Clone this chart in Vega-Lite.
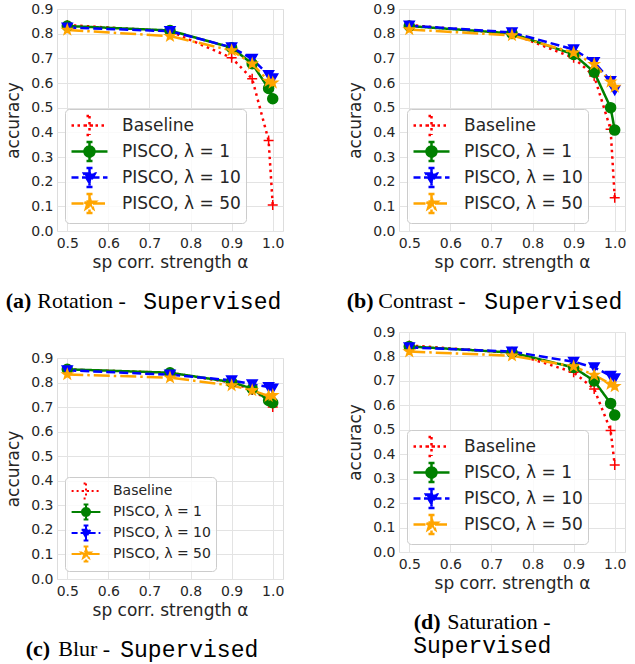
{
"$schema": "https://vega.github.io/schema/vega-lite/v6.json",
"padding": {"left": 4, "top": 1, "right": 0, "bottom": 0},
"background": "white",
"config": {
  "view": {"stroke": "#dddddd", "strokeWidth": 1},
  "axis": {"labelFont": "DejaVu Sans", "labelFontSize": 14, "labelColor": "#262626", "titleFont": "DejaVu Sans", "titleFontSize": 17, "titleFontWeight": "normal", "titleColor": "#262626", "ticks": false, "domain": false, "gridColor": "#e3e3e3", "gridWidth": 1},
  "title": {"color": "black"}
},
"datasets": {
  "rot": [
    {"alpha": 0.5, "acc": 0.835, "method": "Baseline"}, {"alpha": 0.75, "acc": 0.81, "method": "Baseline"}, {"alpha": 0.9, "acc": 0.702, "method": "Baseline"}, {"alpha": 0.95, "acc": 0.617, "method": "Baseline"}, {"alpha": 0.99, "acc": 0.367, "method": "Baseline"}, {"alpha": 1.0, "acc": 0.105, "method": "Baseline"},
    {"alpha": 0.5, "acc": 0.831, "method": "PISCO, λ = 1"}, {"alpha": 0.75, "acc": 0.813, "method": "PISCO, λ = 1"}, {"alpha": 0.9, "acc": 0.743, "method": "PISCO, λ = 1"}, {"alpha": 0.95, "acc": 0.678, "method": "PISCO, λ = 1"}, {"alpha": 0.99, "acc": 0.578, "method": "PISCO, λ = 1"}, {"alpha": 1.0, "acc": 0.536, "method": "PISCO, λ = 1"},
    {"alpha": 0.5, "acc": 0.825, "method": "PISCO, λ = 10"}, {"alpha": 0.75, "acc": 0.81, "method": "PISCO, λ = 10"}, {"alpha": 0.9, "acc": 0.745, "method": "PISCO, λ = 10"}, {"alpha": 0.95, "acc": 0.698, "method": "PISCO, λ = 10"}, {"alpha": 0.99, "acc": 0.632, "method": "PISCO, λ = 10"}, {"alpha": 1.0, "acc": 0.619, "method": "PISCO, λ = 10"},
    {"alpha": 0.5, "acc": 0.815, "method": "PISCO, λ = 50"}, {"alpha": 0.75, "acc": 0.79, "method": "PISCO, λ = 50"}, {"alpha": 0.9, "acc": 0.732, "method": "PISCO, λ = 50"}, {"alpha": 0.95, "acc": 0.678, "method": "PISCO, λ = 50"}, {"alpha": 0.99, "acc": 0.608, "method": "PISCO, λ = 50"}, {"alpha": 1.0, "acc": 0.601, "method": "PISCO, λ = 50"}
  ],
  "con": [
    {"alpha": 0.5, "acc": 0.835, "method": "Baseline"}, {"alpha": 0.75, "acc": 0.80, "method": "Baseline"}, {"alpha": 0.9, "acc": 0.702, "method": "Baseline"}, {"alpha": 0.95, "acc": 0.628, "method": "Baseline"}, {"alpha": 0.99, "acc": 0.412, "method": "Baseline"}, {"alpha": 1.0, "acc": 0.135, "method": "Baseline"},
    {"alpha": 0.5, "acc": 0.831, "method": "PISCO, λ = 1"}, {"alpha": 0.75, "acc": 0.801, "method": "PISCO, λ = 1"}, {"alpha": 0.9, "acc": 0.716, "method": "PISCO, λ = 1"}, {"alpha": 0.95, "acc": 0.644, "method": "PISCO, λ = 1"}, {"alpha": 0.99, "acc": 0.5, "method": "PISCO, λ = 1"}, {"alpha": 1.0, "acc": 0.409, "method": "PISCO, λ = 1"},
    {"alpha": 0.5, "acc": 0.833, "method": "PISCO, λ = 10"}, {"alpha": 0.75, "acc": 0.805, "method": "PISCO, λ = 10"}, {"alpha": 0.9, "acc": 0.736, "method": "PISCO, λ = 10"}, {"alpha": 0.95, "acc": 0.685, "method": "PISCO, λ = 10"}, {"alpha": 0.99, "acc": 0.608, "method": "PISCO, λ = 10"}, {"alpha": 1.0, "acc": 0.57, "method": "PISCO, λ = 10"},
    {"alpha": 0.5, "acc": 0.817, "method": "PISCO, λ = 50"}, {"alpha": 0.75, "acc": 0.793, "method": "PISCO, λ = 50"}, {"alpha": 0.9, "acc": 0.723, "method": "PISCO, λ = 50"}, {"alpha": 0.95, "acc": 0.676, "method": "PISCO, λ = 50"}, {"alpha": 0.99, "acc": 0.605, "method": "PISCO, λ = 50"}, {"alpha": 1.0, "acc": 0.584, "method": "PISCO, λ = 50"}
  ],
  "blur": [
    {"alpha": 0.5, "acc": 0.853, "method": "Baseline"}, {"alpha": 0.75, "acc": 0.84, "method": "Baseline"}, {"alpha": 0.9, "acc": 0.80, "method": "Baseline"}, {"alpha": 0.95, "acc": 0.77, "method": "Baseline"}, {"alpha": 0.99, "acc": 0.727, "method": "Baseline"}, {"alpha": 1.0, "acc": 0.70, "method": "Baseline"},
    {"alpha": 0.5, "acc": 0.854, "method": "PISCO, λ = 1"}, {"alpha": 0.75, "acc": 0.84, "method": "PISCO, λ = 1"}, {"alpha": 0.9, "acc": 0.802, "method": "PISCO, λ = 1"}, {"alpha": 0.95, "acc": 0.775, "method": "PISCO, λ = 1"}, {"alpha": 0.99, "acc": 0.727, "method": "PISCO, λ = 1"}, {"alpha": 1.0, "acc": 0.718, "method": "PISCO, λ = 1"},
    {"alpha": 0.5, "acc": 0.85, "method": "PISCO, λ = 10"}, {"alpha": 0.75, "acc": 0.832, "method": "PISCO, λ = 10"}, {"alpha": 0.9, "acc": 0.809, "method": "PISCO, λ = 10"}, {"alpha": 0.95, "acc": 0.793, "method": "PISCO, λ = 10"}, {"alpha": 0.99, "acc": 0.782, "method": "PISCO, λ = 10"}, {"alpha": 1.0, "acc": 0.775, "method": "PISCO, λ = 10"},
    {"alpha": 0.5, "acc": 0.833, "method": "PISCO, λ = 50"}, {"alpha": 0.75, "acc": 0.82, "method": "PISCO, λ = 50"}, {"alpha": 0.9, "acc": 0.788, "method": "PISCO, λ = 50"}, {"alpha": 0.95, "acc": 0.768, "method": "PISCO, λ = 50"}, {"alpha": 0.99, "acc": 0.745, "method": "PISCO, λ = 50"}, {"alpha": 1.0, "acc": 0.748, "method": "PISCO, λ = 50"}
  ],
  "sat": [
    {"alpha": 0.5, "acc": 0.845, "method": "Baseline"}, {"alpha": 0.75, "acc": 0.815, "method": "Baseline"}, {"alpha": 0.9, "acc": 0.735, "method": "Baseline"}, {"alpha": 0.95, "acc": 0.667, "method": "Baseline"}, {"alpha": 0.99, "acc": 0.497, "method": "Baseline"}, {"alpha": 1.0, "acc": 0.356, "method": "Baseline"},
    {"alpha": 0.5, "acc": 0.841, "method": "PISCO, λ = 1"}, {"alpha": 0.75, "acc": 0.816, "method": "PISCO, λ = 1"}, {"alpha": 0.9, "acc": 0.755, "method": "PISCO, λ = 1"}, {"alpha": 0.95, "acc": 0.70, "method": "PISCO, λ = 1"}, {"alpha": 0.99, "acc": 0.608, "method": "PISCO, λ = 1"}, {"alpha": 1.0, "acc": 0.56, "method": "PISCO, λ = 1"},
    {"alpha": 0.5, "acc": 0.837, "method": "PISCO, λ = 10"}, {"alpha": 0.75, "acc": 0.82, "method": "PISCO, λ = 10"}, {"alpha": 0.9, "acc": 0.778, "method": "PISCO, λ = 10"}, {"alpha": 0.95, "acc": 0.755, "method": "PISCO, λ = 10"}, {"alpha": 0.99, "acc": 0.721, "method": "PISCO, λ = 10"}, {"alpha": 1.0, "acc": 0.71, "method": "PISCO, λ = 10"},
    {"alpha": 0.5, "acc": 0.82, "method": "PISCO, λ = 50"}, {"alpha": 0.75, "acc": 0.803, "method": "PISCO, λ = 50"}, {"alpha": 0.9, "acc": 0.759, "method": "PISCO, λ = 50"}, {"alpha": 0.95, "acc": 0.724, "method": "PISCO, λ = 50"}, {"alpha": 0.99, "acc": 0.687, "method": "PISCO, λ = 50"}, {"alpha": 1.0, "acc": 0.678, "method": "PISCO, λ = 50"}
  ]
},
"resolve": {"scale": {"color": "independent", "stroke": "independent", "shape": "independent", "strokeDash": "independent"}},
"spacing": 61,
"hconcat": [
 {
  "resolve": {"scale": {"color": "independent", "stroke": "independent", "shape": "independent", "strokeDash": "independent"}},
  "spacing": 36,
  "vconcat": [
   {
    "resolve": {"scale": {"color": "independent", "stroke": "independent", "shape": "independent", "strokeDash": "independent"}},
    "title": {"text": "Supervised", "orient": "bottom", "anchor": "start", "frame": "bounds", "font": "Liberation Mono", "fontSize": 23, "fontWeight": "normal", "offset": 0, "dx": 139, "dy": -22},
    "vconcat": [
     {
      "resolve": {"scale": {"color": "independent", "stroke": "independent", "shape": "independent", "strokeDash": "independent"}},
      "title": {"text": "Rotation -", "orient": "bottom", "anchor": "start", "frame": "bounds", "font": "Liberation Serif", "fontSize": 22, "fontWeight": "normal", "offset": 0, "dx": 33, "dy": -22},
      "vconcat": [
       {
        "width": 226, "height": 222,
        "data": {"name": "rot"},
        "title": {"text": "(a)", "orient": "bottom", "anchor": "start", "frame": "bounds", "font": "Liberation Serif", "fontSize": 22, "fontWeight": "bold", "offset": 21, "dx": 1},
        "encoding": {
          "x": {"field": "alpha", "type": "quantitative", "scale": {"domain": [0.475, 1.025], "nice": false, "zero": false}, "axis": {"values": [0.5, 0.6, 0.7, 0.8, 0.9, 1.0], "format": ".1f", "title": "sp corr. strength α", "labelPadding": 5, "titlePadding": 4}},
          "y": {"field": "acc", "type": "quantitative", "scale": {"domain": [0, 0.9], "nice": false}, "axis": {"values": [0, 0.1, 0.2, 0.3, 0.4, 0.5, 0.6, 0.7, 0.8, 0.9], "format": ".1f", "title": "accuracy", "labelPadding": 4, "titlePadding": 8}},
          "color": {"field": "method", "type": "nominal", "scale": {"domain": ["Baseline", "PISCO, λ = 1", "PISCO, λ = 10", "PISCO, λ = 50"], "range": ["red", "green", "blue", "orange"]},
            "legend": {"title": null, "orient": "bottom-left", "offset": 8, "fillColor": "rgba(255,255,255,0.8)", "strokeColor": "#cccccc", "cornerRadius": 4, "padding": 5, "labelFont": "DejaVu Sans", "labelFontSize": 17, "labelColor": "#262626", "symbolSize": 400, "symbolStrokeWidth": 2.5, "symbolOffset": 8, "labelOffset": 21, "rowPadding": -3.5,
              "encode": {"symbols": {"update": {
                "shape": {"signal": "datum.value == 'Baseline' ? 'M-1.8,0H1.8M-0.5,0H0.5M0,-0.95V0.95M-0.3,-0.95H0.3M-0.3,0.95H0.3' : datum.value == 'PISCO, λ = 1' ? 'M-1.8,0H1.8M0,-0.95V0.95M-0.3,-0.95H0.3M-0.3,0.95H0.3M0.5,0A0.5,0.5,0,1,1,-0.5,0A0.5,0.5,0,1,1,0.5,0Z' : datum.value == 'PISCO, λ = 10' ? 'M-1.8,0H1.8M0,-0.95V0.95M-0.3,-0.95H0.3M-0.3,0.95H0.3M-0.55,-0.4L0.55,-0.4L0,0.55Z' : 'M-1.8,0H1.8M0,-0.95V0.95M-0.3,-0.95H0.3M-0.3,0.95H0.3M0,-0.6L0.141,-0.194L0.571,-0.185L0.228,0.074L0.353,0.485L0,0.24L-0.353,0.485L-0.228,0.074L-0.571,-0.185L-0.141,-0.194Z'"},
                "fill": {"signal": "datum.value == 'Baseline' ? 'transparent' : datum.value == 'PISCO, λ = 1' ? 'green' : datum.value == 'PISCO, λ = 10' ? 'blue' : 'orange'"},
                "stroke": {"signal": "datum.value == 'Baseline' ? 'red' : datum.value == 'PISCO, λ = 1' ? 'green' : datum.value == 'PISCO, λ = 10' ? 'blue' : 'orange'"},
                "strokeDash": {"signal": "datum.value == 'Baseline' ? [2.5,3.5] : datum.value == 'PISCO, λ = 10' ? [7,3.5] : datum.value == 'PISCO, λ = 50' ? [12,3.5,2.5,3.5] : [1,0]"},
                "opacity": {"value": 1}}}}}}
        },
        "layer": [
          {"mark": {"type": "line", "strokeWidth": 2.5}, "encoding": {"strokeDash": {"field": "method", "type": "nominal", "scale": {"range": [[2.5, 4], [1, 0], [9, 4], [16, 4, 2.5, 4]]}, "legend": null}}},
          {"mark": {"type": "point", "filled": true, "size": 100, "strokeWidth": 1.5, "opacity": 1}, "encoding": {
            "shape": {"field": "method", "type": "nominal", "scale": {"range": ["M-1,0H1M0,-1V1", "circle", "triangle-down", "M0,-1L0.235,-0.324L0.951,-0.309L0.38,0.124L0.588,0.809L0,0.4L-0.588,0.809L-0.38,0.124L-0.951,-0.309L-0.235,-0.324Z"]}, "legend": null},
            "stroke": {"field": "method", "type": "nominal", "scale": {"range": ["red", "green", "blue", "orange"]}, "legend": null}}}
        ]
       }
      ]
     }
    ]
   },
   {
    "resolve": {"scale": {"color": "independent", "stroke": "independent", "shape": "independent", "strokeDash": "independent"}},
    "title": {"text": "Supervised", "orient": "bottom", "anchor": "start", "frame": "bounds", "font": "Liberation Mono", "fontSize": 23, "fontWeight": "normal", "offset": 0, "dx": 116, "dy": -22},
    "vconcat": [
     {
      "resolve": {"scale": {"color": "independent", "stroke": "independent", "shape": "independent", "strokeDash": "independent"}},
      "title": {"text": "Blur -", "orient": "bottom", "anchor": "start", "frame": "bounds", "font": "Liberation Serif", "fontSize": 22, "fontWeight": "normal", "offset": 0, "dx": 54, "dy": -22},
      "vconcat": [
       {
        "width": 226, "height": 221,
        "data": {"name": "blur"},
        "title": {"text": "(c)", "orient": "bottom", "anchor": "start", "frame": "bounds", "font": "Liberation Serif", "fontSize": 22, "fontWeight": "bold", "offset": 21, "dx": 21},
        "encoding": {
          "x": {"field": "alpha", "type": "quantitative", "scale": {"domain": [0.475, 1.025], "nice": false, "zero": false}, "axis": {"values": [0.5, 0.6, 0.7, 0.8, 0.9, 1.0], "format": ".1f", "title": "sp corr. strength α", "labelPadding": 5, "titlePadding": 4}},
          "y": {"field": "acc", "type": "quantitative", "scale": {"domain": [0, 0.9], "nice": false}, "axis": {"values": [0, 0.1, 0.2, 0.3, 0.4, 0.5, 0.6, 0.7, 0.8, 0.9], "format": ".1f", "title": "accuracy", "labelPadding": 4, "titlePadding": 8}},
          "color": {"field": "method", "type": "nominal", "scale": {"domain": ["Baseline", "PISCO, λ = 1", "PISCO, λ = 10", "PISCO, λ = 50"], "range": ["red", "green", "blue", "orange"]},
            "legend": {"title": null, "orient": "bottom-left", "offset": 8, "fillColor": "rgba(255,255,255,0.8)", "strokeColor": "#cccccc", "cornerRadius": 4, "padding": 5, "labelFont": "DejaVu Sans", "labelFontSize": 14, "labelColor": "#262626", "symbolSize": 256, "symbolStrokeWidth": 2, "symbolOffset": 7, "labelOffset": 18, "rowPadding": -4.5,
              "encode": {"symbols": {"update": {
                "shape": {"signal": "datum.value == 'Baseline' ? 'M-1.8,0H1.8M-0.5,0H0.5M0,-0.95V0.95M-0.3,-0.95H0.3M-0.3,0.95H0.3' : datum.value == 'PISCO, λ = 1' ? 'M-1.8,0H1.8M0,-0.95V0.95M-0.3,-0.95H0.3M-0.3,0.95H0.3M0.5,0A0.5,0.5,0,1,1,-0.5,0A0.5,0.5,0,1,1,0.5,0Z' : datum.value == 'PISCO, λ = 10' ? 'M-1.8,0H1.8M0,-0.95V0.95M-0.3,-0.95H0.3M-0.3,0.95H0.3M-0.55,-0.4L0.55,-0.4L0,0.55Z' : 'M-1.8,0H1.8M0,-0.95V0.95M-0.3,-0.95H0.3M-0.3,0.95H0.3M0,-0.6L0.141,-0.194L0.571,-0.185L0.228,0.074L0.353,0.485L0,0.24L-0.353,0.485L-0.228,0.074L-0.571,-0.185L-0.141,-0.194Z'"},
                "fill": {"signal": "datum.value == 'Baseline' ? 'transparent' : datum.value == 'PISCO, λ = 1' ? 'green' : datum.value == 'PISCO, λ = 10' ? 'blue' : 'orange'"},
                "stroke": {"signal": "datum.value == 'Baseline' ? 'red' : datum.value == 'PISCO, λ = 1' ? 'green' : datum.value == 'PISCO, λ = 10' ? 'blue' : 'orange'"},
                "strokeDash": {"signal": "datum.value == 'Baseline' ? [2,3] : datum.value == 'PISCO, λ = 10' ? [6,3] : datum.value == 'PISCO, λ = 50' ? [10,3,2,3] : [1,0]"},
                "opacity": {"value": 1}}}}}}
        },
        "layer": [
          {"mark": {"type": "line", "strokeWidth": 2.5}, "encoding": {"strokeDash": {"field": "method", "type": "nominal", "scale": {"range": [[2.5, 4], [1, 0], [9, 4], [16, 4, 2.5, 4]]}, "legend": null}}},
          {"mark": {"type": "point", "filled": true, "size": 100, "strokeWidth": 1.5, "opacity": 1}, "encoding": {
            "shape": {"field": "method", "type": "nominal", "scale": {"range": ["M-1,0H1M0,-1V1", "circle", "triangle-down", "M0,-1L0.235,-0.324L0.951,-0.309L0.38,0.124L0.588,0.809L0,0.4L-0.588,0.809L-0.38,0.124L-0.951,-0.309L-0.235,-0.324Z"]}, "legend": null},
            "stroke": {"field": "method", "type": "nominal", "scale": {"range": ["red", "green", "blue", "orange"]}, "legend": null}}}
        ]
       }
      ]
     }
    ]
   }
  ]
 },
 {
  "resolve": {"scale": {"color": "independent", "stroke": "independent", "shape": "independent", "strokeDash": "independent"}},
  "spacing": 10,
  "vconcat": [
   {
    "resolve": {"scale": {"color": "independent", "stroke": "independent", "shape": "independent", "strokeDash": "independent"}},
    "title": {"text": "Supervised", "orient": "bottom", "anchor": "start", "frame": "bounds", "font": "Liberation Mono", "fontSize": 23, "fontWeight": "normal", "offset": 0, "dx": 138, "dy": -22},
    "vconcat": [
     {
      "resolve": {"scale": {"color": "independent", "stroke": "independent", "shape": "independent", "strokeDash": "independent"}},
      "title": {"text": "Contrast -", "orient": "bottom", "anchor": "start", "frame": "bounds", "font": "Liberation Serif", "fontSize": 22, "fontWeight": "normal", "offset": 0, "dx": 32, "dy": -22},
      "vconcat": [
       {
        "width": 226, "height": 222,
        "data": {"name": "con"},
        "title": {"text": "(b)", "orient": "bottom", "anchor": "start", "frame": "bounds", "font": "Liberation Serif", "fontSize": 22, "fontWeight": "bold", "offset": 21, "dx": 0},
        "encoding": {
          "x": {"field": "alpha", "type": "quantitative", "scale": {"domain": [0.475, 1.025], "nice": false, "zero": false}, "axis": {"values": [0.5, 0.6, 0.7, 0.8, 0.9, 1.0], "format": ".1f", "title": "sp corr. strength α", "labelPadding": 5, "titlePadding": 4}},
          "y": {"field": "acc", "type": "quantitative", "scale": {"domain": [0, 0.9], "nice": false}, "axis": {"values": [0, 0.1, 0.2, 0.3, 0.4, 0.5, 0.6, 0.7, 0.8, 0.9], "format": ".1f", "title": "accuracy", "labelPadding": 4, "titlePadding": 8}},
          "color": {"field": "method", "type": "nominal", "scale": {"domain": ["Baseline", "PISCO, λ = 1", "PISCO, λ = 10", "PISCO, λ = 50"], "range": ["red", "green", "blue", "orange"]},
            "legend": {"title": null, "orient": "bottom-left", "offset": 8, "fillColor": "rgba(255,255,255,0.8)", "strokeColor": "#cccccc", "cornerRadius": 4, "padding": 5, "labelFont": "DejaVu Sans", "labelFontSize": 17, "labelColor": "#262626", "symbolSize": 400, "symbolStrokeWidth": 2.5, "symbolOffset": 8, "labelOffset": 21, "rowPadding": -3.5,
              "encode": {"symbols": {"update": {
                "shape": {"signal": "datum.value == 'Baseline' ? 'M-1.8,0H1.8M-0.5,0H0.5M0,-0.95V0.95M-0.3,-0.95H0.3M-0.3,0.95H0.3' : datum.value == 'PISCO, λ = 1' ? 'M-1.8,0H1.8M0,-0.95V0.95M-0.3,-0.95H0.3M-0.3,0.95H0.3M0.5,0A0.5,0.5,0,1,1,-0.5,0A0.5,0.5,0,1,1,0.5,0Z' : datum.value == 'PISCO, λ = 10' ? 'M-1.8,0H1.8M0,-0.95V0.95M-0.3,-0.95H0.3M-0.3,0.95H0.3M-0.55,-0.4L0.55,-0.4L0,0.55Z' : 'M-1.8,0H1.8M0,-0.95V0.95M-0.3,-0.95H0.3M-0.3,0.95H0.3M0,-0.6L0.141,-0.194L0.571,-0.185L0.228,0.074L0.353,0.485L0,0.24L-0.353,0.485L-0.228,0.074L-0.571,-0.185L-0.141,-0.194Z'"},
                "fill": {"signal": "datum.value == 'Baseline' ? 'transparent' : datum.value == 'PISCO, λ = 1' ? 'green' : datum.value == 'PISCO, λ = 10' ? 'blue' : 'orange'"},
                "stroke": {"signal": "datum.value == 'Baseline' ? 'red' : datum.value == 'PISCO, λ = 1' ? 'green' : datum.value == 'PISCO, λ = 10' ? 'blue' : 'orange'"},
                "strokeDash": {"signal": "datum.value == 'Baseline' ? [2.5,3.5] : datum.value == 'PISCO, λ = 10' ? [7,3.5] : datum.value == 'PISCO, λ = 50' ? [12,3.5,2.5,3.5] : [1,0]"},
                "opacity": {"value": 1}}}}}}
        },
        "layer": [
          {"mark": {"type": "line", "strokeWidth": 2.5}, "encoding": {"strokeDash": {"field": "method", "type": "nominal", "scale": {"range": [[2.5, 4], [1, 0], [9, 4], [16, 4, 2.5, 4]]}, "legend": null}}},
          {"mark": {"type": "point", "filled": true, "size": 100, "strokeWidth": 1.5, "opacity": 1}, "encoding": {
            "shape": {"field": "method", "type": "nominal", "scale": {"range": ["M-1,0H1M0,-1V1", "circle", "triangle-down", "M0,-1L0.235,-0.324L0.951,-0.309L0.38,0.124L0.588,0.809L0,0.4L-0.588,0.809L-0.38,0.124L-0.951,-0.309L-0.235,-0.324Z"]}, "legend": null},
            "stroke": {"field": "method", "type": "nominal", "scale": {"range": ["red", "green", "blue", "orange"]}, "legend": null}}}
        ]
       }
      ]
     }
    ]
   },
   {
    "resolve": {"scale": {"color": "independent", "stroke": "independent", "shape": "independent", "strokeDash": "independent"}},
    "title": {"text": "Supervised", "orient": "bottom", "anchor": "start", "frame": "bounds", "font": "Liberation Mono", "fontSize": 23, "fontWeight": "normal", "offset": 1, "dx": 67},
    "vconcat": [
     {
      "resolve": {"scale": {"color": "independent", "stroke": "independent", "shape": "independent", "strokeDash": "independent"}},
      "title": {"text": "Saturation -", "orient": "bottom", "anchor": "start", "frame": "bounds", "font": "Liberation Serif", "fontSize": 22, "fontWeight": "normal", "offset": 0, "dx": 101, "dy": -22},
      "vconcat": [
       {
        "width": 226, "height": 220,
        "data": {"name": "sat"},
        "title": {"text": "(d)", "orient": "bottom", "anchor": "start", "frame": "bounds", "font": "Liberation Serif", "fontSize": 22, "fontWeight": "bold", "offset": 21, "dx": 67},
        "encoding": {
          "x": {"field": "alpha", "type": "quantitative", "scale": {"domain": [0.475, 1.025], "nice": false, "zero": false}, "axis": {"values": [0.5, 0.6, 0.7, 0.8, 0.9, 1.0], "format": ".1f", "title": "sp corr. strength α", "labelPadding": 5, "titlePadding": 4}},
          "y": {"field": "acc", "type": "quantitative", "scale": {"domain": [0, 0.9], "nice": false}, "axis": {"values": [0, 0.1, 0.2, 0.3, 0.4, 0.5, 0.6, 0.7, 0.8, 0.9], "format": ".1f", "title": "accuracy", "labelPadding": 4, "titlePadding": 8}},
          "color": {"field": "method", "type": "nominal", "scale": {"domain": ["Baseline", "PISCO, λ = 1", "PISCO, λ = 10", "PISCO, λ = 50"], "range": ["red", "green", "blue", "orange"]},
            "legend": {"title": null, "orient": "bottom-left", "offset": 8, "fillColor": "rgba(255,255,255,0.8)", "strokeColor": "#cccccc", "cornerRadius": 4, "padding": 5, "labelFont": "DejaVu Sans", "labelFontSize": 17, "labelColor": "#262626", "symbolSize": 400, "symbolStrokeWidth": 2.5, "symbolOffset": 8, "labelOffset": 21, "rowPadding": -3.5,
              "encode": {"symbols": {"update": {
                "shape": {"signal": "datum.value == 'Baseline' ? 'M-1.8,0H1.8M-0.5,0H0.5M0,-0.95V0.95M-0.3,-0.95H0.3M-0.3,0.95H0.3' : datum.value == 'PISCO, λ = 1' ? 'M-1.8,0H1.8M0,-0.95V0.95M-0.3,-0.95H0.3M-0.3,0.95H0.3M0.5,0A0.5,0.5,0,1,1,-0.5,0A0.5,0.5,0,1,1,0.5,0Z' : datum.value == 'PISCO, λ = 10' ? 'M-1.8,0H1.8M0,-0.95V0.95M-0.3,-0.95H0.3M-0.3,0.95H0.3M-0.55,-0.4L0.55,-0.4L0,0.55Z' : 'M-1.8,0H1.8M0,-0.95V0.95M-0.3,-0.95H0.3M-0.3,0.95H0.3M0,-0.6L0.141,-0.194L0.571,-0.185L0.228,0.074L0.353,0.485L0,0.24L-0.353,0.485L-0.228,0.074L-0.571,-0.185L-0.141,-0.194Z'"},
                "fill": {"signal": "datum.value == 'Baseline' ? 'transparent' : datum.value == 'PISCO, λ = 1' ? 'green' : datum.value == 'PISCO, λ = 10' ? 'blue' : 'orange'"},
                "stroke": {"signal": "datum.value == 'Baseline' ? 'red' : datum.value == 'PISCO, λ = 1' ? 'green' : datum.value == 'PISCO, λ = 10' ? 'blue' : 'orange'"},
                "strokeDash": {"signal": "datum.value == 'Baseline' ? [2.5,3.5] : datum.value == 'PISCO, λ = 10' ? [7,3.5] : datum.value == 'PISCO, λ = 50' ? [12,3.5,2.5,3.5] : [1,0]"},
                "opacity": {"value": 1}}}}}}
        },
        "layer": [
          {"mark": {"type": "line", "strokeWidth": 2.5}, "encoding": {"strokeDash": {"field": "method", "type": "nominal", "scale": {"range": [[2.5, 4], [1, 0], [9, 4], [16, 4, 2.5, 4]]}, "legend": null}}},
          {"mark": {"type": "point", "filled": true, "size": 100, "strokeWidth": 1.5, "opacity": 1}, "encoding": {
            "shape": {"field": "method", "type": "nominal", "scale": {"range": ["M-1,0H1M0,-1V1", "circle", "triangle-down", "M0,-1L0.235,-0.324L0.951,-0.309L0.38,0.124L0.588,0.809L0,0.4L-0.588,0.809L-0.38,0.124L-0.951,-0.309L-0.235,-0.324Z"]}, "legend": null},
            "stroke": {"field": "method", "type": "nominal", "scale": {"range": ["red", "green", "blue", "orange"]}, "legend": null}}}
        ]
       }
      ]
     }
    ]
   }
  ]
 }
]
}
